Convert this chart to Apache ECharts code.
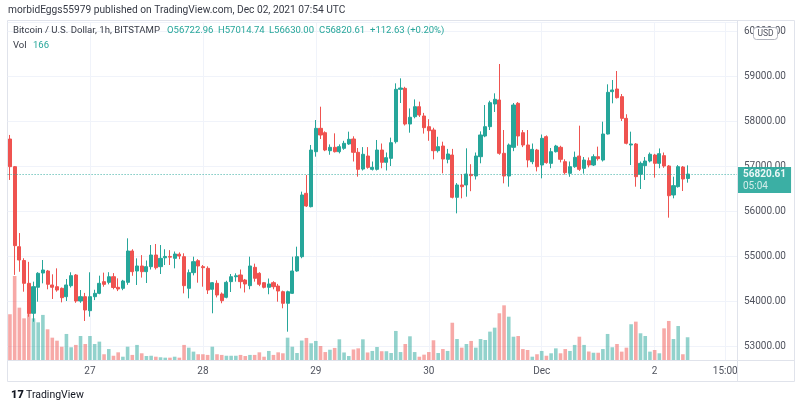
<!DOCTYPE html>
<html><head><meta charset="utf-8">
<script src="https://cdn.jsdelivr.net/npm/echarts@6/dist/echarts.min.js"></script>
<style>html,body{margin:0;padding:0;background:#fff}#c{width:800px;height:410px}</style>
</head><body><div id="c"></div>
<script>
// Hourly candles, Nov 26 07:00 UTC -> Dec 2 07:00 UTC (BTC/USD, Bitstamp)
const openP = [57600,56985,55207,54900,54393,53727,54305,54622,54667,54356,
54318,54282,54096,54340,54578,54000,54096,53785,54096,54170,
54430,54415,54540,54304,54282,54415,55111,54667,54778,54652,
54763,55022,54763,54960,54990,54948,55040,54985,54282,54630,
54896,54763,54726,54260,54393,54156,54082,54430,54540,54578,
54467,54341,54748,54615,54407,54304,54407,54333,54207,53949,
54170,54667,54985,56393,56096,57318,57837,57740,57340,57415,
57318,57393,57489,57600,57304,56933,57222,56926,56926,57355,
57082,57170,57540,58704,58726,57933,58096,58318,58111,57874,
57800,57340,57444,57148,57244,56304,56578,56578,56815,56778,
57207,57667,57874,58378,58467,57282,56778,57415,58393,57740,
57467,57096,57355,57022,57652,57059,57318,57415,57096,56837,
56985,57222,56948,57118,57022,57207,57133,57711,58652,58711,
58541,58059,57467,57489,56815,57007,57111,57244,57059,57230,
57000,56356,56541,56978,56722.96];
const closeP = [56985,55230,54911,54393,53720,54318,54616,54689,54371,54305,
54244,54074,54356,54563,54000,54096,53800,54096,54170,54393,
54370,54540,54300,54267,54444,55111,54652,54778,54652,54763,
55022,54740,54948,54990,54975,55044,55000,54341,54630,54874,
54778,54741,54244,54407,54133,54007,54415,54540,54560,54430,
54378,54778,54504,54371,54304,54378,54318,54222,53949,54207,
54667,54985,56356,56111,57355,57837,57689,57355,57415,57318,
57430,57504,57593,57304,56926,57260,56970,56970,57355,57082,
57185,57518,58704,58733,57933,58082,58318,58133,57852,57785,
57340,57430,57155,57267,56304,56578,56540,56822,56785,57222,
57689,57874,58407,58482,57282,56778,57467,58355,57667,57467,
57133,57370,56985,57615,57074,57318,57444,57148,56852,56985,
57193,56926,57133,57022,57207,57163,57711,58637,58689,58518,
58059,57504,57489,56763,57059,57111,57260,57059,57274,57000,
56340,56563,56985,56711,56820.61];
const lowP = [56690,54580,54650,54207,53650,53540,53985,54393,54260,54045,
54207,53970,54000,54300,53960,53960,53556,53652,54020,54150,
54318,54370,54260,54220,54240,54360,54560,54356,54520,54400,
54700,54700,54600,54800,54800,54726,54930,54170,54060,54570,
54407,54318,54156,53727,54080,53950,54060,54200,54430,54280,
54190,54260,54430,54330,54280,54150,54260,53985,53838,53318,
54160,54650,54950,56090,56080,57207,57600,57330,57250,57300,
57280,57360,57470,57100,56763,56900,56940,56900,56900,56950,
56900,57000,57500,58400,57900,57740,58060,58090,57720,57560,
57148,57300,56837,57060,56280,55948,56282,56318,56440,56700,
57060,57640,57800,58200,57250,56615,56540,57330,57450,57420,
56970,57040,56880,56726,57050,56950,57300,57080,56810,56760,
56960,56890,56830,56970,57000,57120,57100,57700,58393,58500,
58000,57480,57022,56540,56489,56689,57080,56741,56950,56960,
55852,56282,56520,56444,56630];
const highP = [57690,57000,55510,54950,54870,54430,54640,54911,54690,54593,
54726,54300,54489,54638,54600,54244,54180,54638,54250,54563,
54630,54640,54620,54504,54470,55393,55150,54948,55020,54900,
55244,55267,55244,55150,55130,55100,55080,55060,54700,54985,
54930,54800,54770,54420,54460,54190,54450,54600,54615,54700,
54490,54985,54830,54640,54420,54500,54440,54380,54230,54230,
54985,55207,56430,56800,57467,58022,58318,57770,57480,57726,
57480,57560,57763,57660,57400,57420,57420,57100,57578,57500,
57300,57630,58837,58948,58760,58280,58480,58430,58180,58040,
57850,57650,57540,57380,57380,56620,56822,57393,57040,57300,
57770,58355,58450,58615,59267,57800,57500,58400,58420,57800,
57800,57500,57380,57700,57680,57400,57470,57450,57150,57100,
57320,57896,57200,57190,57260,57430,57985,58815,58911,59111,
58600,58150,57763,57510,57100,57200,57300,57270,57390,57300,
57020,56763,57020,57000,57014.74];
const volume = [334,613,382,304,334,304,275,329,224,163,
141,97,190,93,110,175,117,175,117,134,
42,80,31,56,24,97,37,110,49,29,
31,24,20,17,17,24,17,110,90,61,
42,42,37,97,42,37,31,31,31,37,
29,37,37,56,24,66,37,56,49,163,
97,51,142,161,122,139,102,58,75,88,
151,55,29,77,85,151,55,66,95,64,
64,51,212,58,117,173,58,24,39,58,
144,51,80,66,272,153,90,117,139,90,
153,146,207,236,341,399,316,170,175,80,
73,24,42,66,31,49,85,49,80,66,
110,170,110,62,53,53,80,190,93,117,
61,90,261,280,195,175,61,73,49,231,
285,153,248,42,166];
const tickCats = ['2021-11-27 00:00','2021-11-28 00:00','2021-11-29 00:00','2021-11-30 00:00','2021-12-01 00:00','2021-12-02 00:00','2021-12-02 15:00'];
const tickTexts = ['27','28','29','30','Dec','2','15:00'];
const lastPrice = 56820.61;
const lastLabel = '05:04';

// hourly category axis (includes empty slots to the right of the last candle)
const categories = [];
const t0 = Date.UTC(2021, 10, 26, 7);
const pad = n => String(n).padStart(2, '0');
for (let i = 0; i < 155; i++) {
  const d = new Date(t0 + i * 3600000);
  categories.push(d.getUTCFullYear() + '-' + pad(d.getUTCMonth() + 1) + '-' + pad(d.getUTCDate()) + ' ' + pad(d.getUTCHours()) + ':00');
}
const candles = closeP.map((c, i) => [openP[i], c, lowP[i], highP[i]]);

const UP = '#26a69a', DOWN = '#ef5350';
const FONT = 'Roboto';
const chart = echarts.init(document.getElementById('c'), null, {renderer: 'canvas'});
chart.setOption({
  animation: false,
  backgroundColor: '#fff',
  textStyle: {fontFamily: FONT},
  grid: {left: 7.6, right: 63, top: 22, bottom: 50},
  xAxis: {
    type: 'category', data: categories, boundaryGap: true,
    axisLine: {show: false}, axisTick: {show: false}, splitLine: {show: false},
    axisLabel: {
      interval: (i, v) => tickCats.indexOf(v) >= 0,
      formatter: v => { const k = tickCats.indexOf(v); return k >= 0 ? tickTexts[k] : ''; },
      color: '#50535e', fontSize: 10, margin: 6, fontFamily: FONT
    }
  },
  yAxis: [{
    type: 'value', position: 'right', min: 52689, max: 60200,
    splitNumber: 8, minInterval: 1000, maxInterval: 1000, scale: true,
    axisLine: {show: false}, axisTick: {show: false},
    splitLine: {lineStyle: {color: '#f0f3fa', width: 1}},
    axisLabel: {
      color: '#50535e', fontSize: 10, margin: 7, fontFamily: FONT,
      formatter: v => (Math.abs(v % 1000) < 1e-6 ? v.toFixed(2) : '')
    }
  }, {
    type: 'value', min: 0, max: 2467, show: false, splitLine: {show: false}
  }],
  series: [{
    type: 'bar', yAxisIndex: 1, data: volume, barWidth: 3.6, z: 1,
    itemStyle: {color: p => closeP[p.dataIndex] >= openP[p.dataIndex] ? 'rgba(38,166,154,0.5)' : 'rgba(239,83,80,0.5)'},
    markLine: {
      silent: true, symbol: 'none', z: 0, label: {show: false},
      lineStyle: {color: '#f0f3fa', width: 1, type: 'solid'},
      data: tickCats.map(c => ({xAxis: c}))
    }
  }, {
    type: 'candlestick', data: candles, barWidth: 3.6, z: 3,
    itemStyle: {color: UP, color0: DOWN, borderColor: UP, borderColor0: DOWN, borderWidth: 1},
    markLine: {
      silent: true, symbol: 'none', z: 6,
      lineStyle: {color: UP, width: 1, type: [1, 2], opacity: 0.9},
      label: {
        show: true, position: 'end', distance: 0, offset: [0, 6],
        formatter: '{a|' + lastPrice.toFixed(2) + '}\n{b|' + lastLabel + '}',
        backgroundColor: UP, padding: [1, 5, 1, 6],
        rich: {
          a: {color: '#fff', fontSize: 10, fontWeight: 'bold', lineHeight: 12, fontFamily: FONT},
          b: {color: '#e6f4f2', fontSize: 10, lineHeight: 12, fontFamily: FONT}
        }
      },
      data: [{yAxis: lastPrice}]
    }
  }],
  graphic: [
    {type: 'rect', z: 0, silent: true, shape: {x: 7.5, y: 20.5, width: 787, height: 361}, style: {fill: 'none', stroke: '#e0e3eb', lineWidth: 1}},
    {type: 'line', z: 10, silent: true, shape: {x1: 7.5, y1: 360.5, x2: 794.5, y2: 360.5}, style: {stroke: '#e0e3eb', lineWidth: 1}},
    {type: 'line', z: 10, silent: true, shape: {x1: 737.5, y1: 20.5, x2: 737.5, y2: 381.5}, style: {stroke: '#e0e3eb', lineWidth: 1}},
    {type: 'text', z: 20, left: 8, top: 5, style: {text: 'morbidEggs55979 published on TradingView.com, Dec 02, 2021 07:54 UTC', fill: '#363a45', fontSize: 10.2, fontFamily: FONT}},
    {type: 'text', z: 20, left: 13, top: 26, style: {text: 'Bitcoin / U.S. Dollar, 1h, BITSTAMP', fill: '#363a45', fontSize: 9.6, fontFamily: FONT}},
    {type: 'text', z: 20, left: 167, top: 26, style: {text: 'O' + openP[144].toFixed(2), fill: UP, fontSize: 9.5, fontFamily: FONT}},
    {type: 'text', z: 20, left: 218, top: 26, style: {text: 'H' + highP[144].toFixed(2), fill: UP, fontSize: 9.5, fontFamily: FONT}},
    {type: 'text', z: 20, left: 269, top: 26, style: {text: 'L' + lowP[144].toFixed(2), fill: UP, fontSize: 9.5, fontFamily: FONT}},
    {type: 'text', z: 20, left: 319, top: 26, style: {text: 'C' + closeP[144].toFixed(2), fill: UP, fontSize: 9.5, fontFamily: FONT}},
    {type: 'text', z: 20, left: 370, top: 26, style: {text: '+112.63 (+0.20%)', fill: UP, fontSize: 9.5, fontFamily: FONT}},
    {type: 'text', z: 20, left: 13, top: 41, style: {text: 'Vol', fill: '#363a45', fontSize: 9.5, fontFamily: FONT}},
    {type: 'text', z: 20, left: 33, top: 41, style: {text: String(volume[144]), fill: UP, fontSize: 9.5, fontFamily: FONT}},
    {type: 'rect', z: 20, silent: true, shape: {x: 753.5, y: 27.5, width: 24, height: 12, r: 3}, style: {fill: '#fff', stroke: '#b2b5be', lineWidth: 1}},
    {type: 'text', z: 21, x: 765.5, y: 33.5, style: {text: 'USD', fill: '#50535e', fontSize: 8.5, fontFamily: FONT, align: 'center', verticalAlign: 'middle'}},
    {type: 'text', z: 20, left: 11, top: 390, style: {text: '17', fill: '#131722', fontSize: 11, fontWeight: 900, fontFamily: FONT}},
    {type: 'text', z: 20, left: 26, top: 390, style: {text: 'TradingView', fill: '#131722', fontSize: 10.5, fontFamily: FONT}}
  ]
});
</script></body></html>
